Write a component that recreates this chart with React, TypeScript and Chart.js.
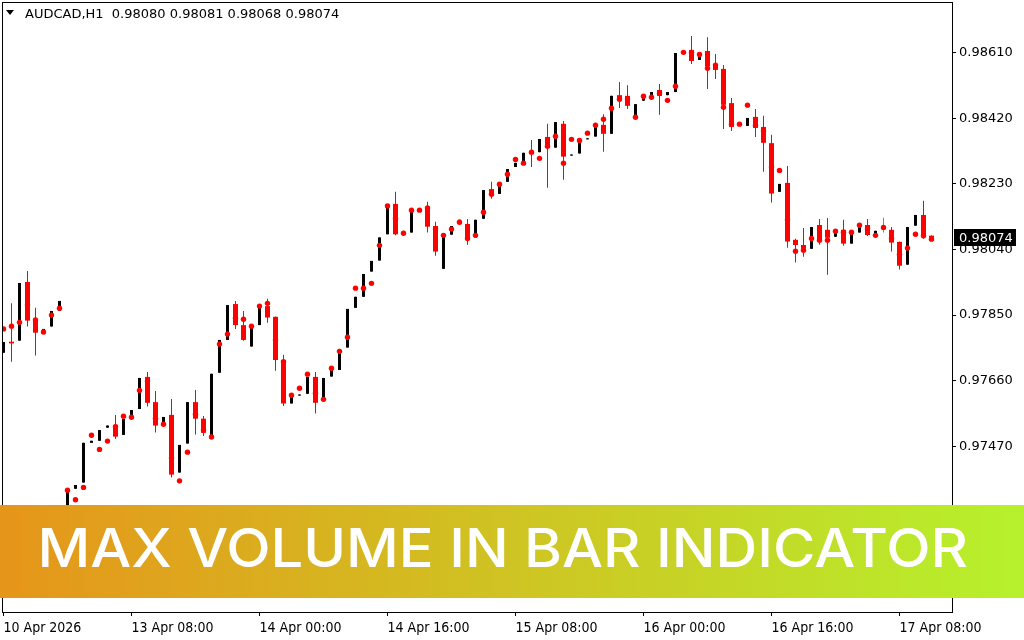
import React, { useEffect, useRef } from 'react';
import { Chart, registerables } from 'chart.js';

Chart.register(...registerables);

// ---- data (AUDCAD, H1) ----
const opens = [
  0.97741, 0.97773, 0.97776, 0.97946, 0.97833, 0.97795, 0.97817, 0.97862, 0.97141, 0.97347,
  0.97365, 0.97480, 0.97486, 0.97524, 0.97532, 0.97503, 0.97556, 0.97578, 0.97671, 0.97598,
  0.97537, 0.97561, 0.97394, 0.97478, 0.97598, 0.97550, 0.97497, 0.97683, 0.97778, 0.97882,
  0.97821, 0.97759, 0.97821, 0.97876, 0.97845, 0.97720, 0.97594, 0.97617, 0.97622, 0.97671,
  0.97608, 0.97672, 0.97691, 0.97756, 0.97871, 0.97903, 0.97976, 0.98008, 0.98084, 0.98172,
  0.98091, 0.98089, 0.98152, 0.98157, 0.98108, 0.97984, 0.98083, 0.98114, 0.98114, 0.98075,
  0.98129, 0.98215, 0.98201, 0.98236, 0.98279, 0.98291, 0.98325, 0.98322, 0.98366, 0.98335,
  0.98404, 0.98312, 0.98318, 0.98359, 0.98367, 0.98401, 0.98375, 0.98487, 0.98485, 0.98418,
  0.98471, 0.98478, 0.98502, 0.98487, 0.98496, 0.98612, 0.98618, 0.98589, 0.98615, 0.98577,
  0.98563, 0.98464, 0.98402, 0.98398, 0.98424, 0.98395, 0.98348, 0.98207, 0.98233, 0.98068,
  0.98053, 0.98042, 0.98111, 0.98097, 0.98077, 0.98097, 0.98057, 0.98089, 0.98111, 0.98082,
  0.98099, 0.98097, 0.98062, 0.97996, 0.98109, 0.98140, 0.98080,
];
const highs = [
  0.97772, 0.97884, 0.97943, 0.97978, 0.97871, 0.97810, 0.97862, 0.97891, 0.97344, 0.97358,
  0.97480, 0.97486, 0.97517, 0.97530, 0.97561, 0.97549, 0.97575, 0.97668, 0.97685, 0.97630,
  0.97555, 0.97607, 0.97474, 0.97598, 0.97633, 0.97558, 0.97680, 0.97778, 0.97879, 0.97891,
  0.97862, 0.97817, 0.97879, 0.97897, 0.97846, 0.97735, 0.97616, 0.97620, 0.97671, 0.97685,
  0.97668, 0.97694, 0.97752, 0.97868, 0.97903, 0.97969, 0.98007, 0.98075, 0.98172, 0.98207,
  0.98094, 0.98158, 0.98154, 0.98178, 0.98120, 0.98082, 0.98108, 0.98126, 0.98128, 0.98126,
  0.98212, 0.98236, 0.98233, 0.98273, 0.98291, 0.98320, 0.98357, 0.98360, 0.98404, 0.98409,
  0.98412, 0.98315, 0.98357, 0.98362, 0.98398, 0.98432, 0.98485, 0.98525, 0.98516, 0.98461,
  0.98490, 0.98496, 0.98519, 0.98496, 0.98609, 0.98614, 0.98658, 0.98612, 0.98655, 0.98606,
  0.98574, 0.98479, 0.98404, 0.98421, 0.98447, 0.98427, 0.98372, 0.98230, 0.98282, 0.98071,
  0.98102, 0.98105, 0.98128, 0.98131, 0.98092, 0.98126, 0.98087, 0.98105, 0.98128, 0.98094,
  0.98132, 0.98105, 0.98063, 0.98105, 0.98140, 0.98181, 0.98081,
];
const lows = [
  0.97741, 0.97715, 0.97776, 0.97817, 0.97733, 0.97795, 0.97817, 0.97862, 0.97036, 0.97347,
  0.97365, 0.97480, 0.97486, 0.97524, 0.97491, 0.97503, 0.97556, 0.97578, 0.97585, 0.97510,
  0.97537, 0.97380, 0.97394, 0.97478, 0.97504, 0.97500, 0.97497, 0.97683, 0.97778, 0.97810,
  0.97776, 0.97759, 0.97821, 0.97828, 0.97689, 0.97587, 0.97594, 0.97617, 0.97622, 0.97565,
  0.97608, 0.97672, 0.97691, 0.97756, 0.97871, 0.97903, 0.97976, 0.98008, 0.98084, 0.98081,
  0.98082, 0.98089, 0.98152, 0.98089, 0.98022, 0.97984, 0.98083, 0.98114, 0.98054, 0.98075,
  0.98129, 0.98187, 0.98201, 0.98236, 0.98279, 0.98291, 0.98279, 0.98322, 0.98219, 0.98335,
  0.98242, 0.98312, 0.98318, 0.98359, 0.98367, 0.98323, 0.98375, 0.98450, 0.98447, 0.98418,
  0.98471, 0.98478, 0.98430, 0.98487, 0.98496, 0.98607, 0.98577, 0.98589, 0.98505, 0.98534,
  0.98389, 0.98383, 0.98402, 0.98398, 0.98366, 0.98265, 0.98176, 0.98207, 0.98045, 0.98002,
  0.98019, 0.98042, 0.98054, 0.97967, 0.98077, 0.98051, 0.98057, 0.98089, 0.98079, 0.98082,
  0.98089, 0.98034, 0.97982, 0.97996, 0.98109, 0.98071, 0.98068,
];
const closes = [
  0.97772, 0.97768, 0.97943, 0.97834, 0.97799, 0.97810, 0.97862, 0.97891, 0.97344, 0.97358,
  0.97480, 0.97486, 0.97517, 0.97530, 0.97498, 0.97549, 0.97575, 0.97668, 0.97596, 0.97530,
  0.97555, 0.97388, 0.97474, 0.97598, 0.97550, 0.97509, 0.97680, 0.97778, 0.97879, 0.97821,
  0.97778, 0.97817, 0.97879, 0.97843, 0.97720, 0.97594, 0.97616, 0.97620, 0.97671, 0.97596,
  0.97668, 0.97694, 0.97752, 0.97868, 0.97903, 0.97969, 0.98007, 0.98075, 0.98172, 0.98084,
  0.98085, 0.98158, 0.98154, 0.98106, 0.98034, 0.98082, 0.98108, 0.98126, 0.98073, 0.98126,
  0.98212, 0.98201, 0.98233, 0.98273, 0.98291, 0.98320, 0.98316, 0.98360, 0.98334, 0.98409,
  0.98309, 0.98315, 0.98357, 0.98362, 0.98398, 0.98375, 0.98485, 0.98476, 0.98456, 0.98461,
  0.98490, 0.98496, 0.98485, 0.98496, 0.98609, 0.98609, 0.98586, 0.98612, 0.98571, 0.98560,
  0.98459, 0.98395, 0.98404, 0.98421, 0.98392, 0.98349, 0.98202, 0.98230, 0.98063, 0.98053,
  0.98042, 0.98105, 0.98065, 0.98074, 0.98092, 0.98057, 0.98087, 0.98105, 0.98082, 0.98094,
  0.98099, 0.98060, 0.97993, 0.98105, 0.98140, 0.98080, 0.98074,
];
const maxVolumePrice = [
  0.97810, 0.97818, 0.97829, 0.97879, 0.97836, 0.97801, 0.97850, 0.97870, 0.97343, 0.97315,
  0.97351, 0.97502, 0.97461, 0.97485, 0.97527, 0.97557, 0.97554, 0.97632, 0.97659, 0.97551,
  0.97534, 0.97436, 0.97370, 0.97453, 0.97563, 0.97517, 0.97497, 0.97766, 0.97795, 0.97841,
  0.97838, 0.97818, 0.97876, 0.97884, 0.97778, 0.97715, 0.97618, 0.97638, 0.97679, 0.97624,
  0.97606, 0.97696, 0.97745, 0.97786, 0.97928, 0.97928, 0.97942, 0.98052, 0.98166, 0.98130,
  0.98087, 0.98154, 0.98154, 0.98160, 0.98099, 0.98081, 0.98099, 0.98119, 0.98072, 0.98081,
  0.98148, 0.98200, 0.98229, 0.98258, 0.98301, 0.98290, 0.98322, 0.98304, 0.98339, 0.98368,
  0.98290, 0.98359, 0.98356, 0.98377, 0.98400, 0.98417, 0.98449, 0.98475, 0.98476, 0.98423,
  0.98484, 0.98481, 0.98492, 0.98472, 0.98513, 0.98611, 0.98611, 0.98605, 0.98565, 0.98574,
  0.98452, 0.98403, 0.98403, 0.98458, 0.98400, 0.98383, 0.98279, 0.98269, 0.98126, 0.98035,
  0.98038, 0.98072, 0.98067, 0.98067, 0.98093, 0.98090, 0.98090, 0.98110, 0.98101, 0.98081,
  0.98104, 0.98072, 0.98026, 0.98044, 0.98084, 0.98080, 0.98070,
];

const priceTicks = [0.9709, 0.9728, 0.9747, 0.9766, 0.9785, 0.9804, 0.9823, 0.9842, 0.9861];
const timeTickIndex = [0, 16, 32, 48, 64, 80, 96, 112];
const timeTickLabels = [
  '10 Apr 2026', '13 Apr 08:00', '14 Apr 00:00', '14 Apr 16:00',
  '15 Apr 08:00', '16 Apr 00:00', '16 Apr 16:00', '17 Apr 08:00',
];
const symbolTitle = 'AUDCAD,H1';
const bannerText = 'MAX VOLUME IN BAR INDICATOR';

const PRICE_MIN = 0.969901;
const PRICE_MAX = 0.987539;
const X_MIN = -0.0625;
const X_MAX = X_MIN + 949 / 8;

const BULL = '#000000';
const BEAR = '#ff0000';
const DOJI = '#00dd00';
const AXIS_FONT = '"DejaVu Sans", Tahoma, sans-serif';
const DATE_FONT = '"Liberation Sans Narrow", "DejaVu Sans Condensed", "Liberation Sans", sans-serif';

export default function App() {
  const canvasRef = useRef<HTMLCanvasElement | null>(null);

  useEffect(() => {
    document.body.style.margin = '0';
    const canvas = canvasRef.current;
    if (!canvas) return;

    const n = opens.length;
    const idx = Array.from({ length: n }, (_, i) => i);
    const colorOf = (i: number) =>
      closes[i] > opens[i] ? BULL : closes[i] < opens[i] ? BEAR : DOJI;

    const upIdx = idx.filter((i) => closes[i] > opens[i]);
    const dnIdx = idx.filter((i) => closes[i] <= opens[i]);

    const upBodies = upIdx.map((i) => ({ x: i, y: [opens[i], closes[i]] }));
    const dnBodies = dnIdx.map((i) => ({ x: i, y: [closes[i], opens[i]] }));
    const dnColors = dnIdx.map((i) => colorOf(i));
    const wicks = idx.map((i) => ({ x: i, y: [lows[i], highs[i]] }));
    const wickColors = idx.map((i) => colorOf(i));
    const dots = idx.map((i) => ({ x: i, y: maxVolumePrice[i] }));

    const last = n - 1;
    const header = `${symbolTitle}  ${opens[last].toFixed(5)} ${highs[last].toFixed(5)} ${lows[last].toFixed(5)} ${closes[last].toFixed(5)}`;

    const overlay = {
      id: 'overlay',
      afterDatasetsDraw(chart: any) {
        const ctx = chart.ctx;
        const a = chart.chartArea;
        ctx.save();
        ctx.strokeStyle = '#000';
        ctx.lineWidth = 1;
        ctx.strokeRect(a.left - 0.5, a.top - 0.5, a.right - a.left + 1, a.bottom - a.top + 1);
        ctx.restore();
      },
      afterDraw(chart: any) {
        const ctx = chart.ctx;
        const ys = chart.scales.y;
        ctx.save();
        // header
        ctx.fillStyle = '#000';
        ctx.beginPath();
        ctx.moveTo(6, 10);
        ctx.lineTo(14, 10);
        ctx.lineTo(10, 15);
        ctx.closePath();
        ctx.fill();
        ctx.font = `13px ${AXIS_FONT}`;
        ctx.textBaseline = 'alphabetic';
        ctx.textAlign = 'left';
        ctx.fillText(header, 25, 18);

        // current price label
        const py = Math.round(ys.getPixelForValue(closes[last]));
        ctx.fillStyle = '#000';
        ctx.fillRect(954, py - 9, 62, 17);
        ctx.fillStyle = '#fff';
        ctx.textBaseline = 'middle';
        ctx.fillText(closes[last].toFixed(5), 959, py + 0.5);

        // banner
        const g = ctx.createLinearGradient(0, 0, 1024, 0);
        g.addColorStop(0, '#e6951a');
        g.addColorStop(0.5, '#cfc423');
        g.addColorStop(1, '#b6f12c');
        ctx.fillStyle = g;
        ctx.fillRect(0, 505, 1024, 93);
        ctx.font = '500 53px Inter, "Open Sans", sans-serif';
        ctx.textBaseline = 'alphabetic';
        const w = ctx.measureText(bannerText).width;
        ctx.translate(37.5, 567);
        ctx.scale(930.5 / w, 1);
        ctx.fillStyle = '#ffffff';
        ctx.fillText(bannerText, 0, 0);
        ctx.restore();
      },
    };

    const chart = new Chart(canvas, {
      type: 'bar',
      data: {
        datasets: [
          {
            type: 'line',
            label: 'Max volume price',
            data: dots,
            showLine: false,
            pointRadius: 2.7,
            pointHoverRadius: 2.7,
            pointBackgroundColor: '#ff0000',
            pointBorderWidth: 0,
            order: 0,
          } as any,
          {
            type: 'bar',
            label: 'Bull body',
            data: upBodies,
            backgroundColor: BULL,
            barThickness: 3,
            grouped: false,
            minBarLength: 1,
            inflateAmount: 0,
            order: 1,
          } as any,
          {
            type: 'bar',
            label: 'Bear body',
            data: dnBodies,
            backgroundColor: dnColors,
            barThickness: 5,
            grouped: false,
            minBarLength: 1,
            inflateAmount: 0,
            order: 1,
          } as any,
          {
            type: 'bar',
            label: 'Wick',
            data: wicks,
            backgroundColor: wickColors,
            barThickness: 1,
            grouped: false,
            inflateAmount: 0,
            order: 2,
          } as any,
        ],
      },
      options: {
        animation: false,
        responsive: false,
        events: [],
        layout: { padding: { left: 3, top: 3, right: 0, bottom: 0 } },
        plugins: { legend: { display: false }, tooltip: { enabled: false } },
        scales: {
          x: {
            type: 'linear',
            min: X_MIN,
            max: X_MAX,
            offset: false,
            grid: {
              display: true,
              drawOnChartArea: false,
              drawTicks: true,
              tickLength: 4,
              color: '#000',
              offset: false,
            },
            border: { display: false },
            ticks: {
              autoSkip: false,
              maxRotation: 0,
              minRotation: 0,
              align: 'start',
              padding: 4,
              color: '#000',
              font: { family: DATE_FONT, size: 14 },
              callback: (v: any) => {
                const k = timeTickIndex.indexOf(Number(v));
                return k >= 0 ? timeTickLabels[k] : '';
              },
            },
            afterBuildTicks: (s: any) => {
              s.ticks = timeTickIndex.map((v) => ({ value: v }));
            },
            afterFit: (s: any) => {
              s.height = 28;
              s.paddingLeft = 0;
              s.paddingRight = 0;
              s.paddingTop = 0;
              s.paddingBottom = 0;
            },
          },
          y: {
            type: 'linear',
            position: 'right',
            min: PRICE_MIN,
            max: PRICE_MAX,
            grid: {
              display: true,
              drawOnChartArea: false,
              drawTicks: true,
              tickLength: 4,
              color: '#000',
            },
            border: { display: false },
            ticks: {
              padding: 3,
              color: '#000',
              font: { family: AXIS_FONT, size: 13 },
              callback: (v: any) => Number(v).toFixed(5),
            },
            afterBuildTicks: (s: any) => {
              s.ticks = priceTicks.map((v) => ({ value: v }));
            },
            afterFit: (s: any) => {
              s.width = 72;
              s.paddingTop = 0;
              s.paddingBottom = 0;
              s.paddingLeft = 0;
              s.paddingRight = 0;
            },
          },
        },
      } as any,
      plugins: [overlay],
    });

    return () => chart.destroy();
  }, []);

  return (
    <div style={{ width: 1024, height: 640, background: '#fff' }}>
      <canvas ref={canvasRef} width={1024} height={640} style={{ display: 'block', width: 1024, height: 640 }} />
    </div>
  );
}
